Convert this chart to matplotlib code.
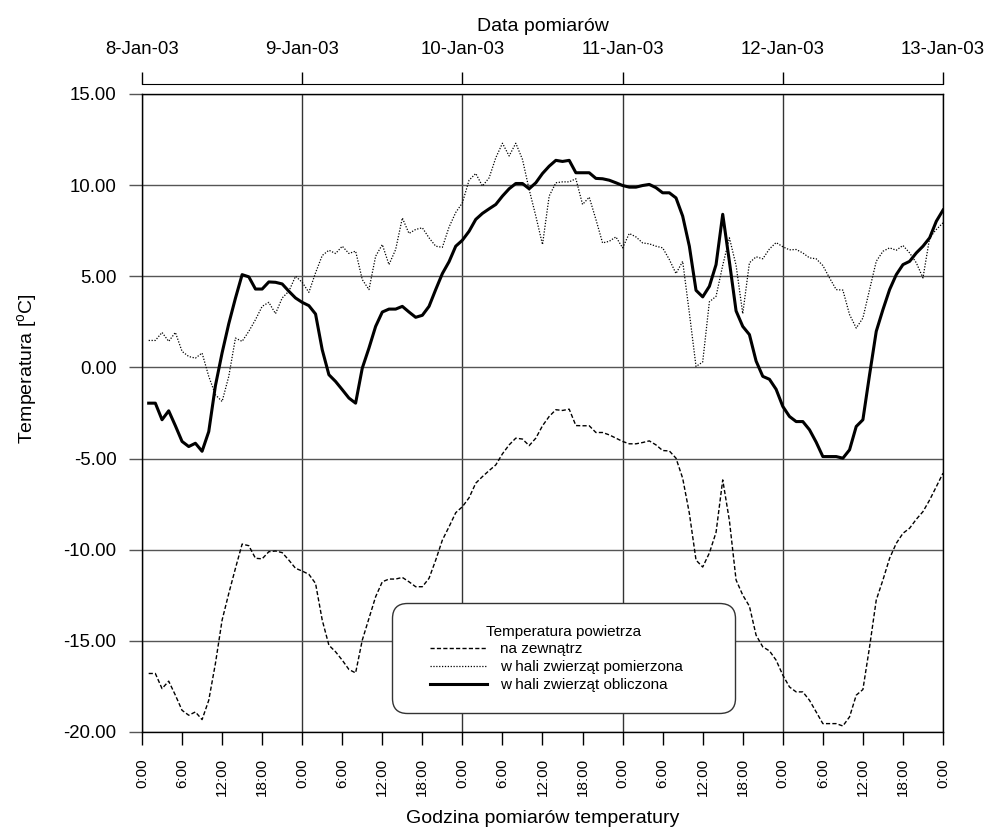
import numpy as np
import matplotlib
matplotlib.use("Agg")
from matplotlib import pyplot as plt
from matplotlib.lines import Line2D
from matplotlib.legend_handler import HandlerLine2D

plt.rcParams['font.family'] = ['Liberation Sans', 'DejaVu Sans']

# hourly readings, 8-Jan-03 1:00 .. 13-Jan-03 0:00
hours = np.arange(1, 121)

outside = [
    -16.79, -16.79, -17.62, -17.21, -17.98, -18.81, -19.08, -18.90, -19.32, -18.26,
    -16.24, -13.86, -12.40, -11.02, -9.69, -9.78, -10.47, -10.50, -10.11, -10.07,
    -10.16, -10.57, -11.02, -11.17, -11.35, -11.85, -13.86, -15.24, -15.60, -16.06,
    -16.57, -16.76, -14.96, -13.77, -12.58, -11.76, -11.61, -11.61, -11.52, -11.76,
    -12.03, -12.03, -11.57, -10.57, -9.47, -8.74, -7.97, -7.64, -7.15, -6.35,
    -5.99, -5.66, -5.35, -4.74, -4.25, -3.88, -3.93, -4.29, -3.88, -3.20,
    -2.69, -2.32, -2.36, -2.29, -3.19, -3.20, -3.20, -3.57, -3.57, -3.70,
    -3.88, -4.06, -4.19, -4.19, -4.12, -4.03, -4.25, -4.56, -4.58, -4.98,
    -6.08, -8.00, -10.57, -10.95, -10.18, -9.05, -6.17, -8.40, -11.66, -12.49,
    -13.10, -14.69, -15.33, -15.55, -16.06, -16.88, -17.53, -17.80, -17.80, -18.26,
    -18.90, -19.54, -19.54, -19.54, -19.67, -19.17, -17.98, -17.67, -15.33, -12.76,
    -11.66, -10.47, -9.65, -9.10, -8.82, -8.33, -7.91, -7.27, -6.54, -5.80,
]

measured = [
    1.48, 1.48, 1.92, 1.43, 1.92, 0.88, 0.60, 0.51, 0.79, -0.49,
    -1.50, -1.87, -0.49, 1.61, 1.43, 1.98, 2.62, 3.35, 3.57, 2.95,
    3.81, 4.18, 5.00, 4.67, 4.12, 5.19, 6.14, 6.43, 6.25, 6.65,
    6.25, 6.38, 4.82, 4.27, 6.10, 6.74, 5.64, 6.47, 8.20, 7.35,
    7.57, 7.66, 7.11, 6.65, 6.59, 7.70, 8.50, 9.03, 10.27, 10.64,
    9.95, 10.40, 11.50, 12.30, 11.60, 12.30, 11.41, 9.76, 8.30, 6.74,
    9.40, 10.13, 10.18, 10.18, 10.35, 8.94, 9.34, 8.12, 6.83, 6.92,
    7.16, 6.56, 7.35, 7.16, 6.83, 6.78, 6.65, 6.56, 5.92, 5.15,
    5.82, 2.99, 0.05, 0.30, 3.60, 3.90, 5.60, 7.11, 5.60, 2.95,
    5.74, 6.07, 5.96, 6.50, 6.85, 6.62, 6.45, 6.47, 6.28, 6.01,
    5.96, 5.59, 4.91, 4.27, 4.24, 2.90, 2.16, 2.71, 4.27, 5.82,
    6.37, 6.56, 6.43, 6.69, 6.28, 5.74, 4.91, 7.11, 7.57, 7.93,
]

computed = [
    -1.96, -1.96, -2.87, -2.38, -3.20, -4.06, -4.34, -4.16, -4.60, -3.52,
    -1.00, 0.80, 2.40, 3.80, 5.09, 4.97, 4.30, 4.30, 4.69, 4.67,
    4.58, 4.18, 3.81, 3.57, 3.39, 2.93, 0.97, -0.40, -0.77, -1.22,
    -1.68, -1.96, -0.04, 1.06, 2.25, 3.04, 3.20, 3.20, 3.35, 3.04,
    2.75, 2.86, 3.35, 4.27, 5.15, 5.80, 6.65, 6.98, 7.47, 8.12,
    8.45, 8.70, 8.94, 9.40, 9.80, 10.09, 10.09, 9.80, 10.13, 10.64,
    11.04, 11.36, 11.30, 11.36, 10.68, 10.68, 10.68, 10.37, 10.35, 10.27,
    10.13, 9.98, 9.89, 9.89, 9.98, 10.04, 9.86, 9.58, 9.58, 9.30,
    8.30, 6.65, 4.23, 3.87, 4.45, 5.64, 8.40, 5.80, 3.10, 2.25,
    1.80, 0.35, -0.49, -0.65, -1.20, -2.14, -2.69, -2.97, -2.97, -3.42,
    -4.10, -4.89, -4.89, -4.89, -4.98, -4.52, -3.24, -2.87, -0.40, 1.98,
    3.17, 4.27, 5.09, 5.64, 5.82, 6.28, 6.65, 7.11, 8.02, 8.63,
]

hour_ticks = np.arange(0, 121, 6)
hour_labels = ["0:00", "6:00", "12:00", "18:00"] * 5 + ["0:00"]
day_ticks = np.arange(0, 121, 24)
day_labels = ["8-Jan-03", "9-Jan-03", "10-Jan-03", "11-Jan-03", "12-Jan-03", "13-Jan-03"]
y_ticks = np.arange(-20, 16, 5)

fig = plt.figure(figsize=(9.87, 8.32), dpi=100)
ax = fig.add_axes([142 / 987, 1 - 732 / 832, 801 / 987, 638 / 832])

# grid behind the data
for d in day_ticks:
    ax.axvline(d, color='#333333', lw=1.0, zorder=0)
ax.grid(axis='y', color='#555555', lw=1.0, zorder=0)
ax.set_axisbelow(True)

ax.plot(hours, outside, color='black', lw=1.0, dashes=(3, 1.6), label='na zewnątrz')
ax.plot(hours, measured, color='black', lw=0.9, dashes=(1, 1.3), label='w hali zwierząt pomierzona')
ax.plot(hours, computed, color='black', lw=2.2, label='w hali zwierząt obliczona')

ax.set_xlim(0, 120)
ax.set_ylim(-20, 15)
ax.set_xticks(hour_ticks)
ax.set_xticklabels(hour_labels, rotation=90)
ax.set_yticks(y_ticks)
ax.set_yticklabels(["%.2f" % v for v in y_ticks])
ax.tick_params(axis='x', direction='out', length=9.4, pad=9.4, width=1, labelsize=11)
ax.tick_params(axis='y', direction='out', length=9.4, pad=9, width=1, color='#555555',
               labelsize=13.4)
for s in ax.spines.values():
    s.set_linewidth(1.0)

ax.set_xlabel('Godzina pomiarów temperatury', fontsize=14)
ax.xaxis.set_label_coords(0.5, -0.122)
ax.set_ylabel('Temperatura [$^\\mathregular{o}$C]', fontsize=14)
ax.yaxis.set_label_coords(-0.127, 0.57)

# date axis above the plot
ax2 = ax.twiny()
ax2.set_xlim(0, 120)
ax2.set_xticks(day_ticks)
ax2.set_xticklabels(day_labels)
ax2.spines['top'].set_position(('outward', 7.2))
for s in ['left', 'right', 'bottom']:
    ax2.spines[s].set_visible(False)
ax2.tick_params(axis='x', direction='out', length=8.6, pad=10, width=1, labelsize=13.4)
ax2.set_xlabel('Data pomiarów', fontsize=14, labelpad=7)

leg = ax.legend(loc='upper left', bbox_to_anchor=(0.312, 0.033, 0.428, 0.169),
                mode='expand', borderaxespad=0, title='Temperatura powietrza',
                fontsize=11, title_fontsize=11, handlelength=4.81, handletextpad=0.85,
                borderpad=1.4, labelspacing=0.25, fancybox=True, framealpha=1,
                edgecolor='#333333', handler_map={Line2D: HandlerLine2D(xpad=1.08)})
leg.get_frame().set_boxstyle('round,pad=0,rounding_size=1.0')
leg.get_frame().set_linewidth(1.0)

fig.savefig('out.png', dpi=100)
